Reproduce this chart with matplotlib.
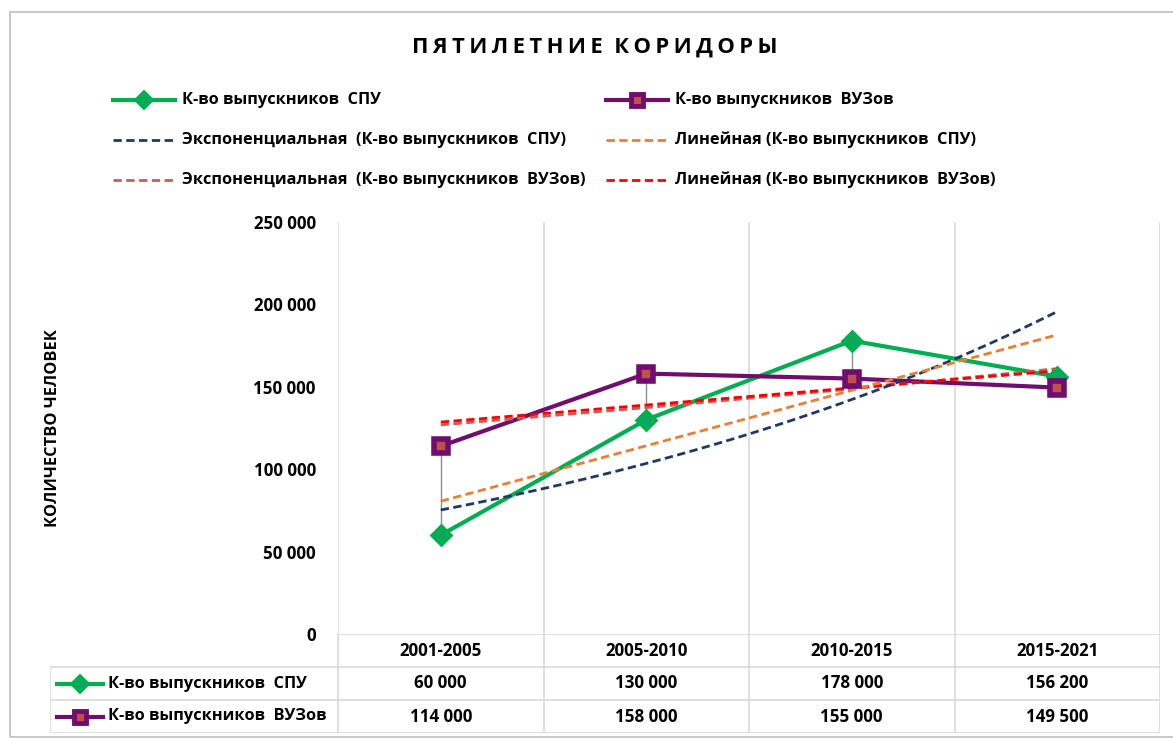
import numpy as np
import matplotlib
matplotlib.use("Agg")
import matplotlib.pyplot as plt
from matplotlib.lines import Line2D
from matplotlib.patches import Rectangle

plt.rcParams["font.family"] = ["Open Sans", "DejaVu Sans"]

# ---- data -----------------------------------------------------------------
periods = ["2001-2005", "2005-2010", "2010-2015", "2015-2021"]
spu = [60000, 130000, 178000, 156200]
vuz = [114000, 158000, 155000, 149500]

name_spu = "К-во выпускников  СПУ"
name_vuz = "К-во выпускников  ВУЗов"
title = "ПЯТИЛЕТНИЕ КОРИДОРЫ"
ylabel = "КОЛИЧЕСТВО ЧЕЛОВЕК"
yticks = [0, 50000, 100000, 150000, 200000, 250000]

# colours
C_SPU = "#00B050"
C_SPU_IN = "#4F74B0"
C_VUZ = "#700D6E"
C_VUZ_IN = "#C0504D"
C_EXP_SPU = "#1F3864"
C_LIN_SPU = "#ED7D31"
C_EXP_VUZ = "#D05A55"
C_LIN_VUZ = "#FF0000"
GRID = "#D9D9D9"
DASH = (0, (3, 1.6))
FS = 11.8        # legend / table label size
FS_NUM = 12.2    # numbers
WT = "bold"

W, H = 1173, 738


def fx(px):
    return px / W


def fy(py):
    return 1 - py / H


def fmt(v):
    return f"{v:,}".replace(",", " ")


x = np.arange(1, len(periods) + 1)


def lin_trend(y):
    k, b = np.polyfit(x, y, 1)
    return k * x + b


def exp_trend(y):
    k, b = np.polyfit(x, np.log(y), 1)
    return np.exp(b + k * x)


fig = plt.figure(figsize=(W / 100, H / 100), dpi=100)
fig.add_artist(Rectangle((fx(10), fy(737)), 1.2, fy(12) - fy(737),
                         transform=fig.transFigure, fill=False,
                         ec="#BFBFBF", lw=1.2))

# ---- main plot --------------------------------------------------------------
ax = fig.add_axes([fx(338), fy(634), fx(1160) - fx(338), fy(222) - fy(634)])
ax.set_xlim(0.5, 4.5)
ax.set_ylim(0, 250000)
for s in ax.spines.values():
    s.set_visible(False)
ax.set_xticks([])
ax.set_xticks(np.arange(0.5, 4.6, 1.0), minor=True)
ax.tick_params(axis="x", which="both", length=0, labelbottom=False)
ax.grid(axis="x", which="minor", color=GRID, lw=1.2)
ax.set_yticks(yticks)
ax.set_yticklabels([fmt(v) for v in yticks], fontsize=FS_NUM, fontweight=WT)
ax.tick_params(axis="y", length=0, pad=16)

# high-low lines
ax.vlines(x, np.minimum(spu, vuz), np.maximum(spu, vuz), color="#8C8C8C",
          lw=1, zorder=3)

ax.plot(x, spu, color=C_SPU, lw=3, zorder=3, solid_capstyle="round")
ax.plot(x, vuz, color=C_VUZ, lw=3, zorder=3, solid_capstyle="round")

# trendlines
ax.plot(x, exp_trend(vuz), color=C_EXP_VUZ, lw=2, ls=DASH, zorder=4)
ax.plot(x, lin_trend(vuz), color=C_LIN_VUZ, lw=2, ls=DASH, zorder=4)
xs = np.linspace(1, 4, 60)
k, b = np.polyfit(x, np.log(spu), 1)
ax.plot(xs, np.exp(b + k * xs), color=C_EXP_SPU, lw=2, ls=DASH, zorder=4)
ax.plot(x, lin_trend(spu), color=C_LIN_SPU, lw=2, ls=DASH, zorder=4)

# markers
ax.plot(x, spu, ls="none", marker="D", ms=7.5, mfc=C_SPU_IN, mec=C_SPU,
        mew=5, zorder=5)
ax.plot(x, vuz, ls="none", marker="s", ms=10, mfc=C_VUZ_IN, mec=C_VUZ,
        mew=4, zorder=5)

fig.text(fx(53), fy(428), ylabel, rotation=90, ha="center", va="center",
         fontsize=FS, fontweight=WT)
fig.text(fx(595), fy(47), "\u2009".join(title).replace("\u2009 \u2009", "  "),
         ha="center", va="center", fontsize=15.8, fontweight=WT)

# ---- legend -----------------------------------------------------------------
legend_items = [
    (113, 100, C_SPU, "-", 3, "D", name_spu),
    (606, 100, C_VUZ, "-", 3, "s", name_vuz),
    (113, 140, C_EXP_SPU, DASH, 2, None,
     "Экспоненциальная  (К-во выпускников  СПУ)"),
    (606, 140, C_LIN_SPU, DASH, 2, None, "Линейная (К-во выпускников  СПУ)"),
    (113, 180, C_EXP_VUZ, DASH, 2, None,
     "Экспоненциальная  (К-во выпускников  ВУЗов)"),
    (606, 180, C_LIN_VUZ, DASH, 2, None, "Линейная (К-во выпускников  ВУЗов)"),
]


def key(x0, x1, yp, color, ls, lw, marker):
    fig.add_artist(Line2D([fx(x0), fx(x1)], [fy(yp), fy(yp)], color=color,
                          ls=ls, lw=lw, transform=fig.transFigure))
    if marker == "D":
        fig.add_artist(Line2D([fx((x0 + x1) / 2)], [fy(yp)], marker="D",
                              ms=6.5, mfc=C_SPU_IN, mec=C_SPU, mew=4.5,
                              transform=fig.transFigure))
    elif marker == "s":
        fig.add_artist(Line2D([fx((x0 + x1) / 2)], [fy(yp)], marker="s",
                              ms=9, mfc=C_VUZ_IN, mec=C_VUZ, mew=3.5,
                              transform=fig.transFigure))


for x0, yp, color, ls, lw, marker, label in legend_items:
    key(x0, x0 + 62, yp, color, ls, lw, marker)
    fig.text(fx(x0 + 69), fy(yp), label, ha="left", va="center",
             fontsize=FS, fontweight=WT)

# ---- data table -------------------------------------------------------------
tx = fig.add_axes([fx(50), fy(733), fx(1160) - fx(50), fy(634) - fy(733)])
left = 0.5 - (338 - 50) / ((1160 - 338) / 4)
tx.set_xlim(left, 4.5)
tx.set_ylim(3, 0)
tx.axis("off")
tx.hlines(0, 0.5, 4.5, color=GRID, lw=1.2)
tx.hlines([1, 2, 3], left, 4.5, color=GRID, lw=1.2)
tx.vlines(np.arange(0.5, 4.6, 1.0), 0, 3, color=GRID, lw=1.2)
tx.vlines(left, 1, 3, color=GRID, lw=1.2)

for i, p in enumerate(periods):
    tx.text(x[i], 0.5, p, ha="center", va="center", fontsize=FS_NUM,
            fontweight=WT)
    tx.text(x[i], 1.5, fmt(spu[i]), ha="center", va="center",
            fontsize=FS_NUM, fontweight=WT)
    tx.text(x[i], 2.5, fmt(vuz[i]), ha="center", va="center",
            fontsize=FS_NUM, fontweight=WT)

for row, marker, color, label in [(1.5, "D", C_SPU, name_spu),
                                  (2.5, "s", C_VUZ, name_vuz)]:
    key(57, 103, 733 - (3 - row) * 33, color, "-", 3, marker)
    tx.text(left + (108 - 50) / 205.5, row, label, ha="left", va="center",
            fontsize=FS, fontweight=WT)

fig.savefig("out.png", dpi=100)
